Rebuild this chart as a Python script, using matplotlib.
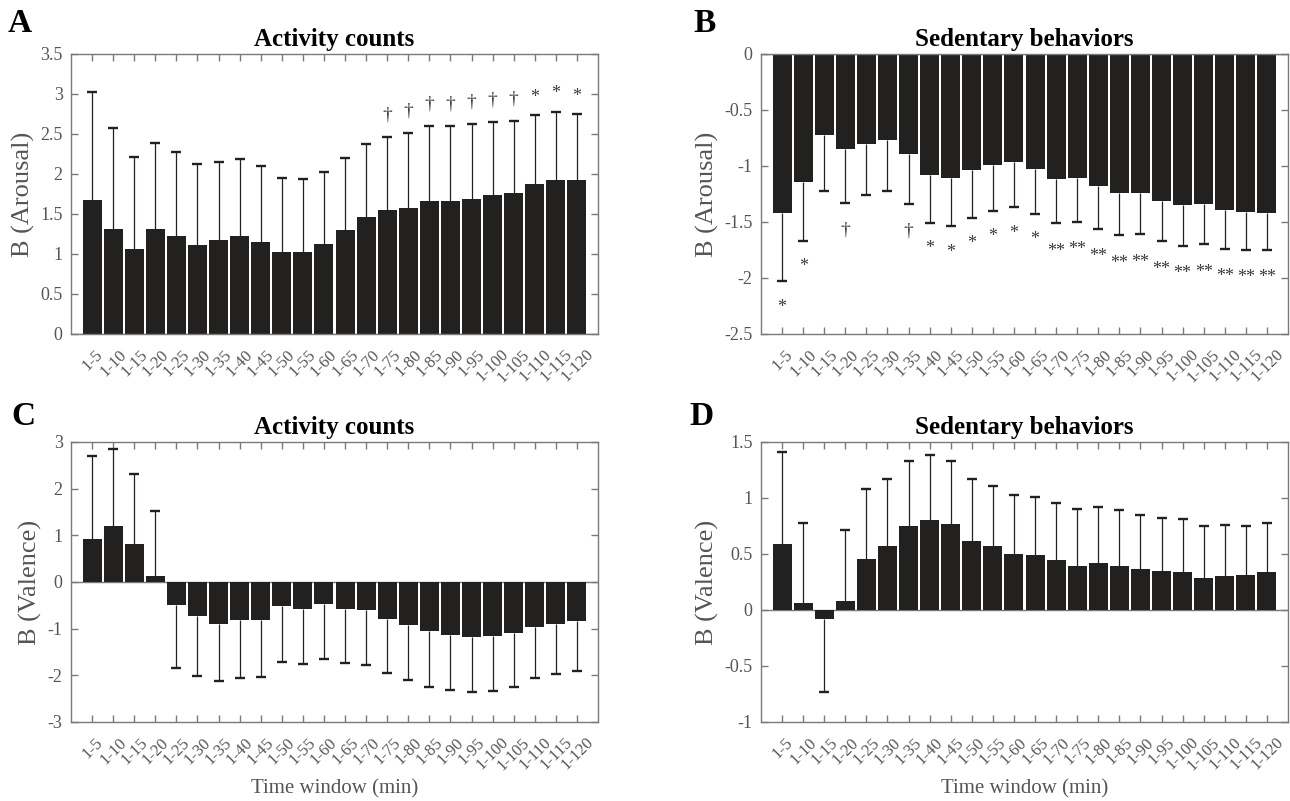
import numpy as np
import matplotlib
matplotlib.use('Agg')
import matplotlib.pyplot as plt

plt.rcParams['font.family'] = ['Liberation Serif', 'DejaVu Serif']
plt.rcParams['axes.unicode_minus'] = False

windows = ['1-5', '1-10', '1-15', '1-20', '1-25', '1-30', '1-35', '1-40', '1-45', '1-50',
           '1-55', '1-60', '1-65', '1-70', '1-75', '1-80', '1-85', '1-90', '1-95', '1-100',
           '1-105', '1-110', '1-115', '1-120']

# Panel A: Arousal ~ Activity counts
A_b = [1.68, 1.31, 1.06, 1.31, 1.22, 1.11, 1.18, 1.22, 1.15, 1.02, 1.02, 1.12,
       1.30, 1.46, 1.55, 1.58, 1.66, 1.66, 1.69, 1.74, 1.76, 1.87, 1.93, 1.92]
A_err = [3.03, 2.58, 2.21, 2.39, 2.28, 2.12, 2.15, 2.19, 2.10, 1.95, 1.94, 2.02,
         2.20, 2.37, 2.46, 2.51, 2.60, 2.60, 2.62, 2.65, 2.66, 2.74, 2.78, 2.75]
A_sig = ['', '', '', '', '', '', '', '', '', '', '', '',
         '', '', '†', '†', '†', '†', '†', '†', '†', '*', '*', '*']

# Panel B: Arousal ~ Sedentary behaviors
B_b = [-1.42, -1.14, -0.72, -0.85, -0.80, -0.77, -0.89, -1.08, -1.11, -1.04, -0.99, -0.96,
       -1.03, -1.12, -1.11, -1.18, -1.24, -1.24, -1.31, -1.35, -1.34, -1.39, -1.41, -1.42]
B_err = [-2.03, -1.67, -1.22, -1.33, -1.26, -1.22, -1.34, -1.51, -1.54, -1.46, -1.40, -1.37,
         -1.43, -1.51, -1.50, -1.56, -1.62, -1.61, -1.67, -1.71, -1.70, -1.74, -1.75, -1.75]
B_sig = ['*', '*', '', '†', '', '', '†', '*', '*', '*', '*', '*',
         '*', '**', '**', '**', '**', '**', '**', '**', '**', '**', '**', '**']

# Panel C: Valence ~ Activity counts
C_b = [0.93, 1.19, 0.82, 0.12, -0.49, -0.72, -0.89, -0.82, -0.81, -0.52, -0.57, -0.48,
       -0.57, -0.59, -0.79, -0.93, -1.04, -1.13, -1.17, -1.15, -1.09, -0.96, -0.89, -0.84]
C_err = [2.70, 2.86, 2.32, 1.53, -1.85, -2.01, -2.13, -2.06, -2.04, -1.71, -1.75, -1.64,
         -1.74, -1.77, -1.96, -2.11, -2.24, -2.31, -2.35, -2.33, -2.24, -2.06, -1.98, -1.91]

# Panel D: Valence ~ Sedentary behaviors
D_b = [0.59, 0.065, -0.077, 0.08, 0.455, 0.574, 0.747, 0.807, 0.771, 0.619, 0.574, 0.503,
       0.494, 0.446, 0.396, 0.423, 0.396, 0.366, 0.348, 0.342, 0.289, 0.307, 0.312, 0.342]
D_err = [1.41, 0.774, -0.729, 0.711, 1.08, 1.17, 1.33, 1.38, 1.33, 1.17, 1.11, 1.03,
         1.01, 0.958, 0.90, 0.923, 0.89, 0.848, 0.824, 0.813, 0.753, 0.759, 0.753, 0.78]

BAR = '#222120'
GREY = '#555555'
SPINE = '#7a7a7a'

W, H = 1290, 801
fig = plt.figure(figsize=(W / 100, H / 100), dpi=100)


def make_ax(l, t, r, b):
    return fig.add_axes([l / W, 1 - b / H, (r - l) / W, (b - t) / H])


def draw(ax, vals, errs, sig, ylim, yticks, ytl, title, ylabel, xlabel, offset):
    x = np.arange(1, len(vals) + 1)
    ax.axhline(0, color=SPINE, lw=1.0, zorder=1)
    ax.bar(x, vals, width=0.9, color=BAR, zorder=2)
    ax.vlines(x, vals, errs, color=BAR, lw=0.9, zorder=3)
    ax.plot(x, errs, ls='none', marker='_', ms=7.5, mew=1.7, color=BAR, zorder=3)
    if sig is not None:
        for xi, e, s in zip(x, errs, sig):
            if s:
                fs = 14 if s == '†' else 13
                ax.text(xi, e + offset[s], s, ha='center', va='center', fontsize=fs,
                        color='#3a3a3a', zorder=4)
    ax.set_xlim(0, len(vals) + 1)
    ax.set_ylim(*ylim)
    ax.set_yticks(yticks)
    ax.set_yticklabels(ytl)
    ax.set_xticks(x)
    ax.set_xticklabels(windows, rotation=45, ha='center', va='top')
    ax.tick_params(direction='in', top=True, right=True, length=5, width=1,
                   color=SPINE, labelcolor=GREY, labelsize=13)
    ax.tick_params(axis='y', pad=6)
    ax.tick_params(axis='x', labelsize=12, pad=9)
    for sp in ax.spines.values():
        sp.set_color(SPINE)
        sp.set_linewidth(1.0)
    ax.set_title(title, fontweight='bold', fontsize=18, pad=6)
    ax.set_ylabel(ylabel, fontsize=19, color=GREY, labelpad=4)
    if xlabel:
        ax.set_xlabel(xlabel, fontsize=15, color=GREY, labelpad=4)


axA = make_ax(71, 54, 598, 334)
axB = make_ax(761, 54, 1288, 334)
axC = make_ax(71, 442, 598, 722)
axD = make_ax(761, 442, 1288, 722)

draw(axA, A_b, A_err, A_sig, (0, 3.5), np.arange(0, 3.51, 0.5),
     ['0', '0.5', '1', '1.5', '2', '2.5', '3', '3.5'],
     'Activity counts', 'B (Arousal)', None, {'†': 0.28, '*': 0.22})
draw(axB, B_b, B_err, B_sig, (-2.5, 0), np.arange(-2.5, 0.01, 0.5),
     ['-2.5', '-2', '-1.5', '-1', '-0.5', '0'],
     'Sedentary behaviors', 'B (Arousal)', None, {'†': -0.24, '*': -0.23, '**': -0.25})
draw(axC, C_b, C_err, None, (-3, 3), np.arange(-3, 3.01, 1),
     ['-3', '-2', '-1', '0', '1', '2', '3'],
     'Activity counts', 'B (Valence)', 'Time window (min)', None)
draw(axD, D_b, D_err, None, (-1, 1.5), np.arange(-1, 1.51, 0.5),
     ['-1', '-0.5', '0', '0.5', '1', '1.5'],
     'Sedentary behaviors', 'B (Valence)', 'Time window (min)', None)

for lab, px, py in [('A', 20, 23), ('B', 705, 23), ('C', 23, 416), ('D', 702, 416)]:
    fig.text(px / W, 1 - py / H, lab, fontsize=24, fontweight='bold',
             ha='center', va='center')

fig.savefig('out.png', dpi=100)
